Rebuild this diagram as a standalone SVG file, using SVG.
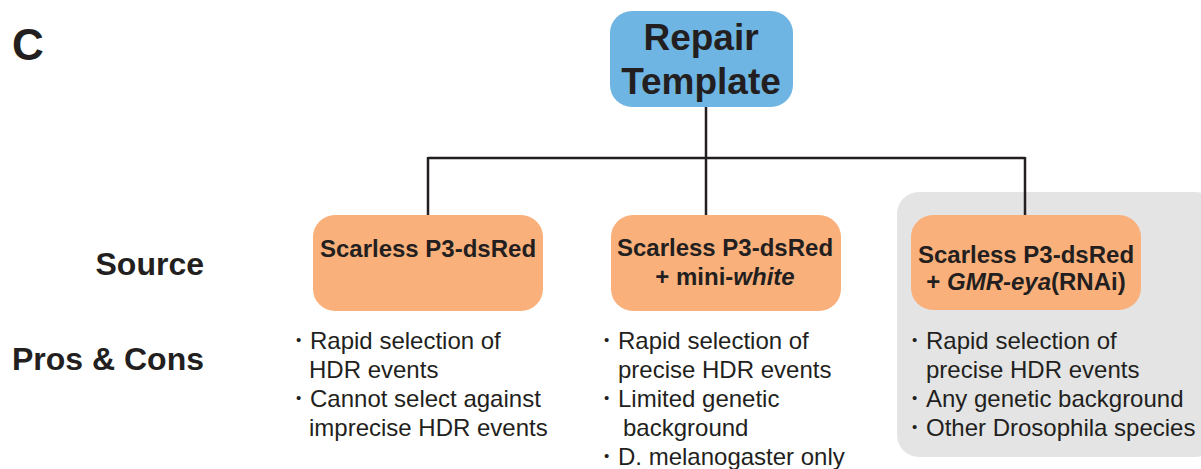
<svg xmlns="http://www.w3.org/2000/svg" width="1201" height="469" viewBox="0 0 1201 469">
<style>
.t{font-family:"Liberation Sans",Arial,sans-serif;fill:#231f20}
.b{font-weight:bold}
.h{font-size:32px;font-weight:bold}
.n{font-size:24px;font-weight:bold}
.p{font-size:24px}
.d{font-size:15px}
.src{fill:#f9b07a}
.ln{stroke:#231f20;stroke-width:2.5;fill:none}
</style>
<rect id="panel" x="897" y="192" width="320" height="265" rx="22" fill="#e4e4e4"/>
<text class="t b" x="12" y="60" font-size="44">C</text>
<text class="t h" x="204" y="275" text-anchor="end">Source</text>
<text class="t h" x="204" y="370" text-anchor="end">Pros &amp; Cons</text>
<g id="connectors">
<path class="ln" d="M706 107V158M428 158H1025M428 157V215M706 157V215M1025 157V215"/>
</g>
<g id="repair">
<rect x="610" y="11" width="183" height="96" rx="22" fill="#6fb5e3"/>
<text class="t b" x="701" y="50" font-size="37" text-anchor="middle">Repair</text>
<text class="t b" x="701" y="94" font-size="37" text-anchor="middle">Template</text>
</g>
<g id="src1">
<rect class="src" x="313" y="215" width="230" height="96" rx="22"/>
<text class="t n" x="428" y="257" text-anchor="middle">Scarless P3-dsRed</text>
</g>
<g id="src2">
<rect class="src" x="611" y="215" width="230" height="96" rx="22"/>
<text class="t n" x="725" y="256" text-anchor="middle">Scarless P3-dsRed</text>
<text class="t n" x="725" y="285" text-anchor="middle">+ mini-<tspan font-style="italic">white</tspan></text>
</g>
<g id="src3">
<rect class="src" x="911" y="215" width="230" height="95" rx="22"/>
<text class="t n" x="1026" y="263" text-anchor="middle">Scarless P3-dsRed</text>
<text class="t n" x="1026" y="290" text-anchor="middle">+ <tspan font-style="italic">GMR-eya</tspan>(RNAi)</text>
</g>
<g id="pros1" class="t">
<text class="d" x="296" y="345">•</text>
<text class="p" x="310" y="349">Rapid selection of</text>
<text class="p" x="309" y="378">HDR events</text>
<text class="d" x="296" y="403">•</text>
<text class="p" x="310" y="407">Cannot select against</text>
<text class="p" x="309" y="436">imprecise HDR events</text>
</g>
<g id="pros2" class="t">
<text class="d" x="604" y="345">•</text>
<text class="p" x="618" y="349">Rapid selection of</text>
<text class="p" x="618" y="378">precise HDR events</text>
<text class="d" x="604" y="403">•</text>
<text class="p" x="618" y="407">Limited genetic</text>
<text class="p" x="623" y="436">background</text>
<text class="d" x="604" y="461">•</text>
<text class="p" x="618" y="465">D. melanogaster only</text>
</g>
<g id="pros3" class="t">
<text class="d" x="912" y="345">•</text>
<text class="p" x="926" y="349">Rapid selection of</text>
<text class="p" x="926" y="378">precise HDR events</text>
<text class="d" x="912" y="403">•</text>
<text class="p" x="926" y="407">Any genetic background</text>
<text class="d" x="912" y="432">•</text>
<text class="p" x="926" y="436">Other Drosophila species</text>
</g>
</svg>
